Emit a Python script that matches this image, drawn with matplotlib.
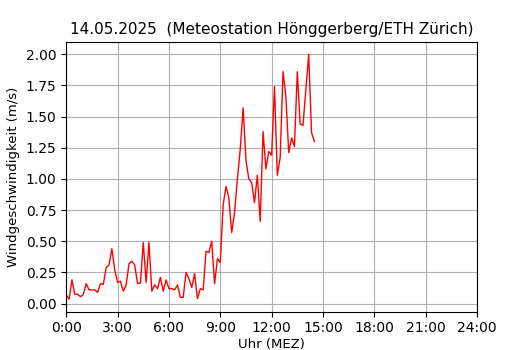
import matplotlib
matplotlib.use("Agg")
import matplotlib.pyplot as plt
import pandas as pd

# 10-minute means, 14.05.2025 from 0:00 on
wind = [0.07, 0.035, 0.19, 0.075, 0.075, 0.055, 0.075, 0.16, 0.11, 0.11,
        0.11, 0.09, 0.16, 0.155, 0.29, 0.31, 0.44, 0.27, 0.17, 0.18,
        0.10, 0.15, 0.32, 0.34, 0.31, 0.16, 0.165, 0.49, 0.17, 0.49,
        0.10, 0.15, 0.12, 0.21, 0.10, 0.19, 0.12, 0.12, 0.11, 0.15,
        0.05, 0.05, 0.25, 0.20, 0.13, 0.24, 0.04, 0.12, 0.11, 0.42,
        0.41, 0.50, 0.16, 0.36, 0.33, 0.79, 0.94, 0.85, 0.57, 0.73,
        1.00, 1.24, 1.57, 1.15, 1.00, 0.97, 0.81, 1.03, 0.66, 1.38,
        1.08, 1.22, 1.19, 1.74, 1.03, 1.17, 1.86, 1.66, 1.21, 1.33,
        1.26, 1.86, 1.44, 1.43, 1.72, 2.00, 1.37, 1.30]
times = pd.date_range("2025-05-14 00:00", periods=len(wind), freq="10min")

tick_labels = ["0:00", "3:00", "6:00", "9:00", "12:00", "15:00", "18:00", "21:00", "24:00"]
day_start = pd.Timestamp("2025-05-14 00:00")
day_end = pd.Timestamp("2025-05-15 00:00")

fig, ax = plt.subplots(figsize=(5.3, 3.5), dpi=100)
ax.plot(times, wind, color="red", linewidth=1)

ax.set_xlim(day_start, day_end)
ax.set_xticks(pd.date_range(day_start, day_end, freq="3h"))
ax.set_xticklabels(tick_labels)
ax.grid(True)

ax.set_title("14.05.2025  (Meteostation Hönggerberg/ETH Zürich)", fontsize=11)
ax.set_xlabel("Uhr (MEZ)", fontsize=9.5, labelpad=2)
ax.set_ylabel("Windgeschwindigkeit (m/s)", fontsize=9.5)

fig.savefig("out.png", dpi=100)
